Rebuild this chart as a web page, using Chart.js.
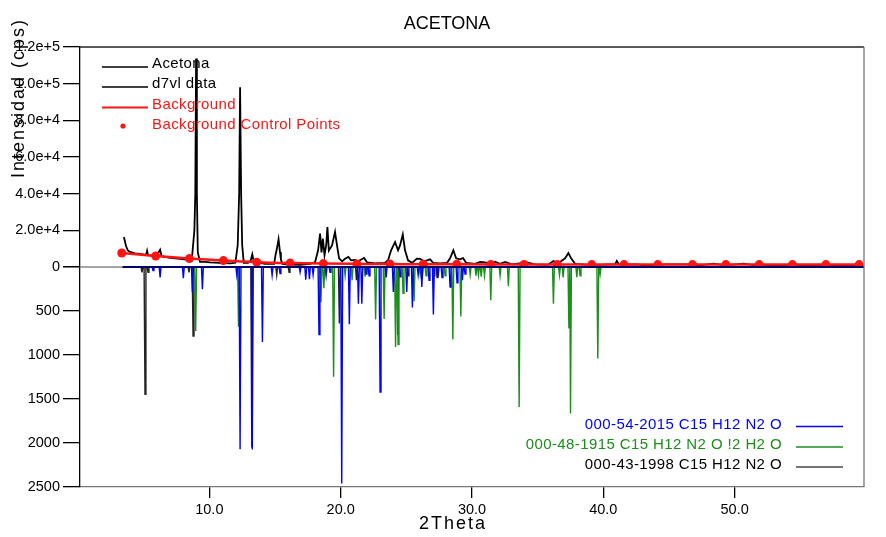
<!DOCTYPE html>
<html>
<head>
<meta charset="utf-8">
<script src="https://cdn.jsdelivr.net/npm/chart.js@4.4.1/dist/chart.umd.min.js"></script>
<style>
  html, body { margin: 0; padding: 0; background: #fff; }
  #wrap { position: relative; width: 886px; height: 537px; }
</style>
</head>
<body>
<div id="wrap"><canvas id="xrdChart"></canvas></div>
<script>
// measured pattern (2theta, cps)
const acetonaTheta = [3.48, 3.52, 3.66, 3.80, 3.96, 4.34, 4.72, 5.10, 5.20, 5.26, 5.33, 5.86, 6.09, 6.25, 6.36, 7.01, 7.77, 8.45, 8.68, 8.86, 8.93, 8.99, 9.05, 9.12, 9.29, 9.67, 10.05, 10.81, 11.58, 11.98, 12.16, 12.27, 12.34, 12.42, 12.50, 12.62, 12.95, 13.15, 13.27, 13.38, 14.24, 14.93, 15.05, 15.12, 15.27, 15.38, 15.45, 15.56, 16.15, 16.91, 17.29, 17.67, 18.05, 18.28, 18.43, 18.54, 18.64, 18.77, 18.90, 18.99, 19.10, 19.34, 19.57, 19.72, 19.88, 20.11, 20.33, 20.59, 20.79, 21.10, 21.33, 21.78, 22.01, 22.62, 23.38, 23.61, 23.84, 24.14, 24.37, 24.52, 24.73, 24.90, 25.13, 25.44, 25.80, 26.05, 26.35, 26.81, 27.04, 27.57, 28.10, 28.33, 28.58, 28.79, 29.09, 29.32, 29.55, 30.24, 30.62, 31.00, 31.38, 31.76, 32.14, 32.52, 33.05, 34.17, 34.81, 35.80, 36.20, 36.56, 37.09, 37.34, 37.55, 37.85, 38.61, 39.75, 40.90, 41.03, 41.20, 42.55, 43.19, 44.84, 46.36, 47.38, 48.39, 49.28, 50.67, 51.56, 54.99, 59.79];
const acetonaCps = [16300, 15500, 11300, 9000, 8200, 7470, 7200, 6650, 7000, 8830, 6500, 6100, 7470, 9480, 5900, 5010, 4470, 3920, 5290, 20000, 40000, 113700, 40000, 8000, 2830, 2830, 2560, 2300, 2020, 2300, 12000, 40000, 98100, 40000, 12000, 2300, 2290, 3500, 6920, 3000, 1740, 1740, 7000, 9100, 15100, 8000, 4000, 1740, 1300, 1200, 1450, 1750, 2560, 9100, 18200, 8000, 15500, 6400, 12000, 21800, 9000, 11800, 19100, 11800, 4740, 3100, 4470, 5450, 3650, 3920, 3100, 4900, 2560, 2020, 2290, 3650, 9100, 13600, 9100, 11800, 17800, 9100, 3650, 2290, 4580, 4470, 3100, 4200, 2290, 2020, 2290, 4740, 9100, 4740, 4200, 4900, 2290, 1740, 2730, 2560, 1470, 2830, 1740, 2730, 1470, 2560, 1470, 1200, 3270, 2020, 4740, 7630, 4740, 1740, 1300, 1200, 1500, 3380, 1300, 1470, 930, 1470, 1470, 930, 1850, 930, 1850, 930, 930, 930];

// background control points
const bgTheta = [3.33, 5.92, 8.48, 11.07, 13.61, 16.15, 18.68, 21.23, 23.76, 26.28, 28.84, 31.43, 33.97, 36.50, 39.12, 41.58, 44.15, 46.79, 49.33, 51.87, 54.40, 56.95, 59.48];
const bgCps = [7630, 6000, 4600, 3500, 2650, 2150, 1850, 1700, 1600, 1500, 1450, 1400, 1350, 1300, 1300, 1300, 1300, 1300, 1300, 1300, 1300, 1300, 1300];

// reference patterns (peak position, intensity)
const ref54Theta = [5.71, 6.25, 8.02, 8.71, 9.47, 12.09, 12.34, 13.27, 14.04, 14.78, 15.38, 16.91, 17.34, 17.62, 17.90, 18.35, 18.89, 19.19, 20.08, 20.66, 21.35, 21.61, 21.93, 22.16, 23.00, 23.46, 24.01, 24.52, 25.03, 25.46, 25.90, 26.18, 26.73, 27.06, 27.42, 27.72, 28.33, 28.86, 29.27, 29.47];
const ref54Counts = [40, 120, 128, 284, 253, 94, 2071, 2075, 852, 95, 75, 60, 143, 140, 90, 768, 100, 60, 2460, 651, 416, 416, 80, 100, 1420, 120, 284, 110, 284, 461, 90, 227, 150, 541, 110, 120, 227, 180, 151, 80];

const ref48Theta = [8.96, 12.22, 18.50, 18.72, 19.46, 20.34, 20.87, 21.86, 22.66, 23.31, 24.18, 24.37, 24.75, 25.59, 26.05, 26.50, 27.11, 27.95, 28.54, 29.15, 29.86, 30.30, 30.49, 30.70, 30.95, 31.43, 32.14, 32.77, 33.59, 36.20, 36.66, 36.94, 37.38, 37.50, 37.98, 38.23, 39.58, 39.76];
const ref48Counts = [727, 680, 400, 240, 1246, 100, 150, 110, 596, 590, 909, 880, 300, 390, 80, 100, 100, 100, 823, 562, 90, 100, 94, 110, 100, 378, 100, 219, 1590, 416, 94, 120, 700, 1666, 117, 100, 1041, 80];

const ref43Theta = [4.87, 5.10, 5.33, 8.45, 8.76, 13.23, 15.13, 16.07, 19.90, 21.20, 24.35, 25.13, 26.20, 27.34];
const ref43Counts = [60, 1446, 60, 60, 784, 2050, 94, 60, 643, 150, 776, 100, 130, 120];

const upperLegend = ['Acetona', 'd7vl data', 'Background', 'Background Control Points'];
const refLegend = ['000-54-2015 C15 H12 N2 O', '000-48-1915 C15 H12 N2 O !2 H2 O', '000-43-1998 C15 H12 N2 O'];

const blue = '#0000ff';
const green = '#1a8f1a';
const red = '#ff1414';
const font = '"Liberation Sans", Arial, sans-serif';

function toPoints(xs, ys) {
    return xs.map((x, i) => ({ x: x, y: ys[i] }));
}

function peakLine(theta, counts) {
    const pts = [{ x: 3.4, y: 0 }];
    theta.forEach((t, i) => {
        pts.push({ x: t - 0.07, y: 0 }, { x: t, y: counts[i] }, { x: t + 0.07, y: 0 });
    });
    pts.push({ x: 59.85, y: 0 });
    return pts;
}

const extras = {
    id: 'extras',
    beforeDatasetsDraw(chart) {
        const { ctx, chartArea } = chart;
        const y0 = chart.scales.y.getPixelForValue(0);
        ctx.save();
        ctx.strokeStyle = '#888';
        ctx.lineWidth = 1.5;
        ctx.beginPath();
        ctx.moveTo(chartArea.left, y0);
        ctx.lineTo(chartArea.right, y0);
        ctx.stroke();
        ctx.restore();
    },
    afterDatasetsDraw(chart) {
        // shared baseline of the reference patterns
        const { ctx, chartArea } = chart;
        const y0 = chart.scales.y.getPixelForValue(0);
        const xs = chart.scales.x.getPixelForValue(3.4);
        ctx.save();
        ctx.strokeStyle = '#00006e';
        ctx.lineWidth = 2;
        ctx.beginPath();
        ctx.moveTo(xs, y0);
        ctx.lineTo(chartArea.right, y0);
        ctx.stroke();
        ctx.restore();
    },
    afterDraw(chart) {
        const { ctx, chartArea } = chart;
        ctx.save();
        // frame
        ctx.lineWidth = 1.3;
        ctx.strokeStyle = '#222';
        ctx.beginPath();
        ctx.moveTo(chartArea.left, chartArea.top);
        ctx.lineTo(chartArea.right, chartArea.top);
        ctx.stroke();
        ctx.strokeStyle = '#777';
        ctx.beginPath();
        ctx.moveTo(chartArea.right, chartArea.top);
        ctx.lineTo(chartArea.right, chartArea.bottom);
        ctx.stroke();

        // titles
        ctx.fillStyle = '#000';
        ctx.textAlign = 'center';
        ctx.textBaseline = 'middle';
        ctx.font = '18px ' + font;
        ctx.fillText('ACETONA', 447, 24);
        ctx.letterSpacing = '2px';
        ctx.fillText('2Theta', 453, 524);
        ctx.save();
        ctx.translate(19, 98);
        ctx.rotate(-Math.PI / 2);
        ctx.fillText('Intensidad (cps)', 0, 0);
        ctx.restore();
        ctx.letterSpacing = '0.4px';

        // upper legend
        ctx.font = '15px ' + font;
        ctx.textAlign = 'left';
        const upColors = ['#000', '#000', red, red];
        const upY = [64, 84, 104.5, 125];
        upperLegend.forEach((label, i) => {
            ctx.fillStyle = upColors[i];
            ctx.strokeStyle = upColors[i];
            if (i < 3) {
                ctx.lineWidth = i === 2 ? 2 : 1.5;
                ctx.beginPath();
                ctx.moveTo(102, upY[i] + 3);
                ctx.lineTo(148, upY[i] + 3);
                ctx.stroke();
            } else {
                ctx.beginPath();
                ctx.arc(123, upY[i] + 1, 2.6, 0, Math.PI * 2);
                ctx.fill();
            }
            ctx.fillText(label, 152, upY[i]);
        });

        // reference legend
        ctx.textAlign = 'right';
        const refColors = [blue, green, '#000'];
        const refLine = [blue, green, '#444'];
        const refY = [424.5, 445, 465];
        refLegend.forEach((label, i) => {
            ctx.fillStyle = refColors[i];
            ctx.fillText(label, 782, refY[i]);
            ctx.strokeStyle = refLine[i];
            ctx.lineWidth = 1.5;
            ctx.beginPath();
            ctx.moveTo(796, refY[i] + 2);
            ctx.lineTo(843, refY[i] + 2);
            ctx.stroke();
        });
        ctx.restore();
    }
};

const tickFont = { family: font, size: 14.5 };

new Chart(document.getElementById('xrdChart'), {
    type: 'line',
    data: {
        datasets: [
            {
                label: 'Background Control Points',
                data: toPoints(bgTheta, bgCps),
                showLine: false,
                pointRadius: 4.5,
                pointBackgroundColor: red,
                pointBorderWidth: 0,
                yAxisID: 'y'
            },
            {
                label: 'Background',
                data: toPoints(bgTheta, bgCps),
                borderColor: red,
                borderWidth: 2.5,
                pointRadius: 0,
                cubicInterpolationMode: 'monotone',
                yAxisID: 'y'
            },
            {
                label: 'Acetona',
                data: toPoints(acetonaTheta, acetonaCps),
                borderColor: '#000',
                borderWidth: 1.8,
                pointRadius: 0,
                tension: 0,
                yAxisID: 'y'
            },
            {
                label: refLegend[0],
                data: peakLine(ref54Theta, ref54Counts),
                borderColor: blue,
                borderWidth: 1.4,
                pointRadius: 0,
                yAxisID: 'y2'
            },
            {
                label: refLegend[1],
                data: peakLine(ref48Theta, ref48Counts),
                borderColor: green,
                borderWidth: 1.4,
                pointRadius: 0,
                yAxisID: 'y2'
            },
            {
                label: refLegend[2],
                data: peakLine(ref43Theta, ref43Counts),
                borderColor: '#222',
                borderWidth: 1.4,
                pointRadius: 0,
                yAxisID: 'y2'
            }
        ]
    },
    options: {
        responsive: true,
        maintainAspectRatio: false,
        animation: false,
        layout: { padding: { top: 47, right: 22, left: 0, bottom: 0 } },
        plugins: {
            legend: { display: false },
            tooltip: { enabled: false }
        },
        scales: {
            x: {
                type: 'linear',
                min: 0.15,
                max: 59.85,
                ticks: {
                    stepSize: 10,
                    includeBounds: false,
                    autoSkip: false,
                    maxRotation: 0,
                    padding: 3,
                    color: '#000',
                    font: tickFont,
                    callback: v => v.toFixed(1)
                },
                grid: { drawOnChartArea: false, tickLength: 11, color: '#000', lineWidth: 1.3 },
                border: { color: '#777', width: 1.3 },
                afterFit: scale => { scale.height = 50; }
            },
            y: {
                type: 'linear',
                position: 'left',
                stack: 'intensity',
                stackWeight: 1,
                weight: 2,
                min: 0,
                max: 120000,
                ticks: {
                    stepSize: 20000,
                    padding: 3,
                    color: '#000',
                    font: tickFont,
                    callback: v => v === 0 ? '0' : v.toExponential(1)
                },
                grid: { drawOnChartArea: false, tickLength: 17, color: '#000', lineWidth: 1.3 },
                border: { color: '#000', width: 1.3 },
                afterFit: scale => { scale.width = 80; }
            },
            y2: {
                type: 'linear',
                position: 'left',
                stack: 'intensity',
                stackWeight: 1,
                weight: 1,
                reverse: true,
                min: 0,
                max: 2500,
                ticks: {
                    stepSize: 500,
                    padding: 3,
                    color: '#000',
                    font: tickFont,
                    callback: v => v === 0 ? '' : String(v)
                },
                grid: { drawOnChartArea: false, tickLength: 17, color: '#000', lineWidth: 1.3 },
                border: { color: '#000', width: 1.3 },
                afterFit: scale => { scale.width = 80; }
            }
        }
    },
    plugins: [extras]
});
</script>
</body>
</html>
